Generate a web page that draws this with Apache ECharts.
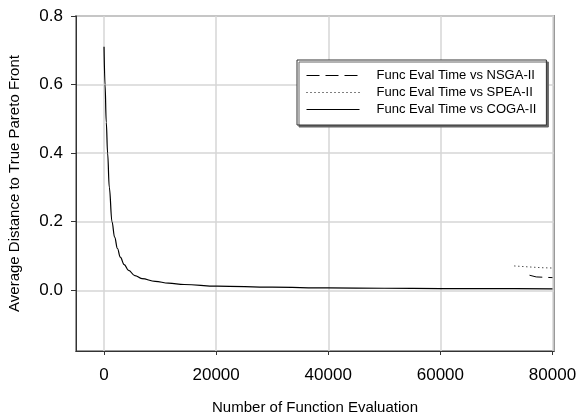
<!DOCTYPE html>
<html>
  <head>
    <meta charset="UTF-8">
    <script src="https://cdn.jsdelivr.net/npm/echarts@6/dist/echarts.min.js"></script>
    <title>Average Distance to True Pareto Front</title>
    <style>
      html, body { margin: 0; padding: 0; background: #fff; }
    </style>
  </head>
  <body>
    <div id="main" style="width: 581px;height:418px;"></div>
    <script type="text/javascript">
      // function evaluations / distance values
      var cogaEvals = [0, 180, 400, 640, 940, 1420, 1890, 2400, 2900, 3600, 4380, 5500, 6760, 9130, 11500, 14300, 20200, 30000, 40000, 50000, 60000, 70000, 80000];
      var cogaDist = [0.71, 0.60, 0.49, 0.40, 0.30, 0.20, 0.155, 0.122, 0.097, 0.075, 0.058, 0.043, 0.034, 0.026, 0.021, 0.017, 0.012, 0.009, 0.007, 0.006, 0.005, 0.005, 0.004];

      var nsgaEvals = [75900, 77100, 78500, 80000];
      var nsgaDist = [0.044, 0.039, 0.038, 0.037];

      var speaEvals = [73200, 76000, 78000, 80000];
      var speaDist = [0.071, 0.068, 0.066, 0.065];

      var xTicks = [0, 20000, 40000, 60000, 80000];
      var yTicks = [0, 0.2, 0.4, 0.6, 0.8];

      var seriesNames = ['Func Eval Time vs NSGA-II', 'Func Eval Time vs SPEA-II', 'Func Eval Time vs COGA-II'];

      function pairs(xs, ys) {
        return xs.map(function (x, i) { return [x, ys[i]]; });
      }

      var font = "'Liberation Sans', Arial, sans-serif";
      var myChart = echarts.init(document.getElementById('main'));

      var option = {
        animation: false,
        textStyle: { fontFamily: font },
        grid: {
          left: 76, top: 16, right: 27, bottom: 67,
          outerBoundsMode: 'none',
          show: true,
          borderColor: '#999',
          borderWidth: 2
        },
        legend: {
          data: seriesNames,
          orient: 'vertical',
          left: 297,
          top: 60,
          itemWidth: 53,
          itemHeight: 14,
          itemGap: 4,
          padding: [9, 10, 9, 9],
          backgroundColor: '#fff',
          borderColor: '#333',
          borderWidth: 1,
          borderRadius: 0,
          shadowColor: '#666',
          shadowOffsetX: 2,
          shadowOffsetY: 2,
          shadowBlur: 0,
          itemStyle: { color: 'transparent', borderWidth: 0 },
          lineStyle: { width: 1 },
          textStyle: { fontSize: 13, color: '#000', fontFamily: font, padding: [0, 0, 0, 12] }
        },
        xAxis: {
          type: 'value',
          min: -5000,
          max: 80270,
          name: 'Number of Function Evaluation',
          nameLocation: 'middle',
          nameGap: 49,
          nameTextStyle: { fontSize: 15, color: '#000' },
          axisLine: { show: true, onZero: false, lineStyle: { color: '#333', width: 1 } },
          axisTick: { show: true, customValues: xTicks, length: 4, lineStyle: { color: '#333' } },
          axisLabel: {
            customValues: xTicks,
            fontSize: 17,
            color: '#000',
            margin: 16,
            formatter: function (v) { return String(v); }
          },
          splitLine: { show: true, lineStyle: { color: '#d6d6d6', width: 1.5 } }
        },
        yAxis: {
          type: 'value',
          min: -0.177,
          max: 0.8,
          name: 'Average Distance to True Pareto Front',
          nameLocation: 'middle',
          nameGap: 54,
          nameTextStyle: { fontSize: 15, color: '#000' },
          axisLine: { show: true, onZero: false, lineStyle: { color: '#333', width: 1 } },
          axisTick: { show: true, customValues: yTicks, length: 5, lineStyle: { color: '#333' } },
          axisLabel: {
            customValues: yTicks,
            fontSize: 17,
            color: '#000',
            margin: 13,
            formatter: function (v) { return v.toFixed(1); }
          },
          splitLine: { show: true, lineStyle: { color: '#d6d6d6', width: 1.5 } }
        },
        series: [
          {
            name: seriesNames[0],
            type: 'line',
            symbol: 'none',
            data: pairs(nsgaEvals, nsgaDist),
            lineStyle: { color: '#000', width: 1, type: [13, 6] },
            itemStyle: { color: '#000' }
          },
          {
            name: seriesNames[1],
            type: 'line',
            symbol: 'none',
            data: pairs(speaEvals, speaDist),
            lineStyle: { color: '#000', width: 1, type: [1, 3] },
            itemStyle: { color: '#000' }
          },
          {
            name: seriesNames[2],
            type: 'line',
            symbol: 'none',
            smooth: 0.4,
            smoothMonotone: 'x',
            data: pairs(cogaEvals, cogaDist),
            lineStyle: { color: '#000', width: 1.2 },
            itemStyle: { color: '#000' }
          }
        ]
      };

      myChart.setOption(option);
    </script>
  </body>
</html>
